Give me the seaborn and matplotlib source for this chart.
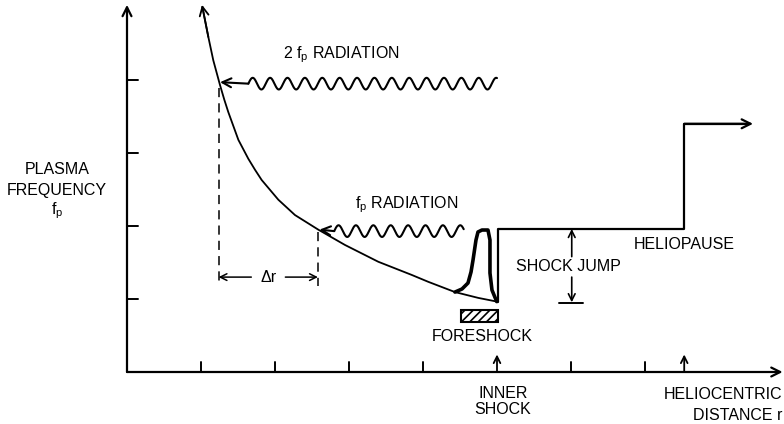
import numpy as np
import pandas as pd
import matplotlib
matplotlib.use("Agg")
import matplotlib.pyplot as plt
from matplotlib.patches import Rectangle
import seaborn as sns

# ---------------- data ----------------
curve_x = [1.018, 1.099, 1.166, 1.257, 1.315, 1.369, 1.505, 1.640, 1.730, 1.820, 2.045,
           2.270, 2.585, 2.946, 3.171, 3.396, 3.847, 4.072, 4.432, 4.747, 4.996]
curve_y = [5.00, 4.59, 4.27, 3.93, 3.73, 3.56, 3.18, 2.92, 2.77, 2.63, 2.36,
           2.15, 1.95, 1.74, 1.625, 1.51, 1.33, 1.235, 1.095, 1.015, 0.965]

bump_x = [4.432, 4.527, 4.608, 4.649, 4.676, 4.716, 4.743, 4.797, 4.878, 4.905, 4.905, 4.932, 4.996]
bump_y = [1.095, 1.137, 1.219, 1.370, 1.534, 1.808, 1.918, 1.945, 1.945, 1.808, 1.356, 1.123, 0.965]

step_x = [4.996, 5.01, 5.01, 7.53, 7.53, 8.40]
step_y = [0.965, 0.965, 1.96, 1.96, 3.40, 3.40]

y_ticks = [1, 2, 3, 4]
x_ticks = [1, 2, 3, 4, 6, 7]
inner_shock_x = 5.0
heliopause_x = 7.53

x_2fp, y_2fp = 1.257, 3.97
x_fp, y_fp = 2.60, 1.95
shock_low = 0.945
shock_high = 1.96

# ---------------- style ----------------
sns.set_theme(style="white")
plt.rcParams['font.family'] = ['Liberation Sans', 'DejaVu Sans']
plt.rcParams['mathtext.fontset'] = 'custom'
plt.rcParams['mathtext.rm'] = 'Liberation Sans'
plt.rcParams['hatch.linewidth'] = 1.2
plt.rcParams['text.color'] = 'black'
plt.rcParams['lines.solid_joinstyle'] = 'round'
plt.rcParams['lines.solid_capstyle'] = 'round'
FS = 11.5
K = 'black'

fig = plt.figure(figsize=(7.84, 4.24), dpi=100)
ax = fig.add_axes([0, 0, 1, 1])
ax.set_xlim(-127 / 74, 657 / 74)
ax.set_ylim(-52 / 73, 372 / 73)
ax.axis('off')


def arrow(x0, y0, x1, y1, lw=1.4, ms=16):
    ax.annotate('', xy=(x1, y1), xytext=(x0, y0),
                arrowprops=dict(arrowstyle='->', lw=lw, color=K,
                                mutation_scale=ms, shrinkA=0, shrinkB=0))


def label(x, y, s, ha='center'):
    ax.text(x, y, s, fontsize=FS, ha=ha, va='center', color=K)


# axes
arrow(0, 0, 0, 5.03, lw=1.6)
arrow(0, 0, 8.86, 0, lw=1.6)
for t in y_ticks:
    ax.plot([0, 0.15], [t, t], color=K, lw=1.4)
for t in x_ticks:
    ax.plot([t, t], [0, 0.14], color=K, lw=1.4)
arrow(inner_shock_x, 0, inner_shock_x, 0.24, lw=1.3, ms=12)
arrow(heliopause_x, 0, heliopause_x, 0.24, lw=1.3, ms=12)

# plasma frequency curve
df_curve = pd.DataFrame({'x': curve_x, 'y': curve_y})
sns.lineplot(data=df_curve, x='x', y='y', sort=False, estimator=None,
             color=K, lw=1.3, ax=ax)
arrow(curve_x[1], curve_y[1], curve_x[0] - 0.004, curve_y[0] + 0.03, lw=1.3, ms=16)

# foreshock bump
df_bump = pd.DataFrame({'x': bump_x, 'y': bump_y})
sns.lineplot(data=df_bump, x='x', y='y', sort=False, estimator=None,
             color=K, lw=2.6, ax=ax)

# shock / heliopause step
df_step = pd.DataFrame({'x': step_x, 'y': step_y})
sns.lineplot(data=df_step, x='x', y='y', sort=False, estimator=None,
             color=K, lw=1.6, ax=ax)
arrow(step_x[-2], step_y[-1], 8.46, step_y[-1], lw=1.6, ms=16)


# wavy radiation arrows (decoration)
def wavy(x_tip, y_tip, x_start, x_end, period=0.235, amp=0.08):
    xs = np.linspace(x_start, x_end, 800)
    ys = y_tip - 0.02 + amp * np.sin(2 * np.pi * (xs - x_start) / period)
    ax.plot(xs, ys, color=K, lw=1.5)
    arrow(x_start, y_tip - 0.02, x_tip, y_tip, lw=1.5, ms=16)


wavy(x_2fp, y_2fp, 1.64, 5.0)
wavy(x_fp, y_fp, 2.80, 4.55)
label(2.11, 4.34, r'2 $\mathregular{f_p}$ RADIATION', ha='left')
label(3.08, 2.29, r'$\mathregular{f_p}$ RADIATION', ha='left')

# dashed lines and delta r
ax.plot([x_2fp - 0.02, x_2fp - 0.02], [3.89, 1.18], color=K, lw=1.1, ls=(0, (6, 4)))
ax.plot([x_fp - 0.02, x_fp - 0.02], [1.92, 1.18], color=K, lw=1.1, ls=(0, (6, 4)))
arrow(1.68, 1.30, x_2fp - 0.02, 1.30, lw=1.1, ms=12)
arrow(2.14, 1.30, x_fp - 0.02, 1.30, lw=1.1, ms=12)
label(1.91, 1.30, 'Δr')

# shock jump annotation
arrow(6.01, 1.58, 6.01, shock_high, lw=1.2, ms=12)
arrow(6.01, 1.30, 6.01, shock_low + 0.01, lw=1.2, ms=12)
ax.plot([5.84, 6.16], [shock_low, shock_low], color=K, lw=1.4)
label(5.26, 1.44, 'SHOCK JUMP', ha='left')
label(6.85, 1.74, 'HELIOPAUSE', ha='left')

# foreshock
ax.add_patch(Rectangle((4.51, 0.685), 0.50, 0.165, facecolor='white',
                       edgecolor=K, lw=1.5, hatch='////'))
label(4.80, 0.49, 'FORESHOCK')

# axis labels
label(-0.95, 2.77, 'PLASMA')
label(-0.95, 2.49, 'FREQUENCY')
label(-0.95, 2.21, r'$\mathregular{f_p}$')
label(5.08, -0.29, 'INNER')
label(5.08, -0.52, 'SHOCK')
label(8.85, -0.31, 'HELIOCENTRIC', ha='right')
label(8.85, -0.60, 'DISTANCE r', ha='right')

fig.savefig('out.png', dpi=100)
